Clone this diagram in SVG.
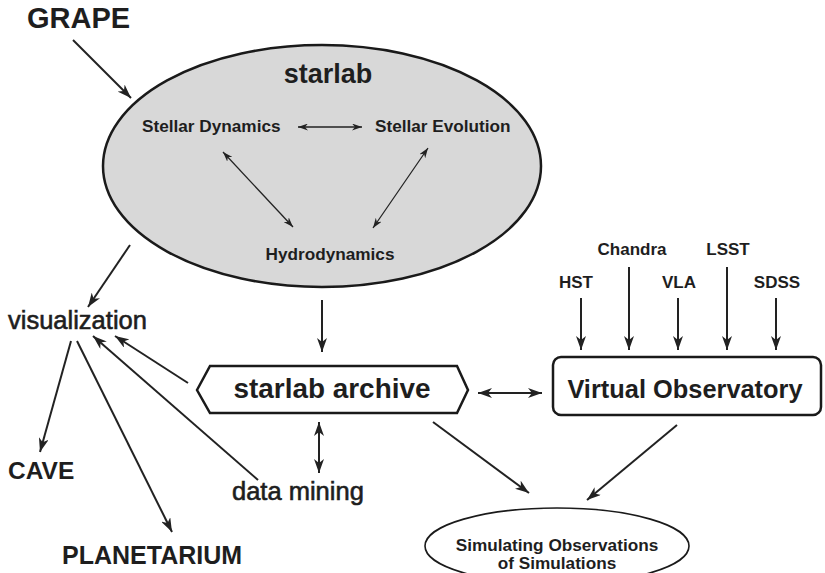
<svg xmlns="http://www.w3.org/2000/svg" width="825" height="573" viewBox="0 0 825 573">
<style>
  text { font-family: "Liberation Sans", Arial, sans-serif; fill: #1e1e1e; }
  .b { font-weight: bold; }
  .r { font-weight: normal; stroke: #1e1e1e; stroke-width: 0.6; }
  .c { stroke: #222; stroke-width: 2; fill: none; }
  .t { stroke: #222; stroke-width: 1.3; fill: none; }
  .shape { stroke: #1a1a1a; stroke-width: 2.5; }
</style>
<defs>
  <marker id="ah" viewBox="0 0 14 10" refX="14" refY="5" markerWidth="14" markerHeight="10" markerUnits="userSpaceOnUse" orient="auto-start-reverse">
    <path d="M0,0 L14,5 L0,10 L4,5 Z" fill="#222"/>
  </marker>
  <marker id="as" viewBox="0 0 10 7" refX="10" refY="3.5" markerWidth="10" markerHeight="7" markerUnits="userSpaceOnUse" orient="auto-start-reverse">
    <path d="M0,0 L10,3.5 L0,7 L3,3.5 Z" fill="#222"/>
  </marker>
</defs>
<rect width="825" height="573" fill="#ffffff"/>

<g id="grape"><text class="b" x="27" y="28" font-size="29">GRAPE</text></g>

<g id="starlab">
  <ellipse class="shape" cx="322" cy="166" rx="219" ry="121" fill="#d8d8d8"/>
  <text class="b" x="328" y="83" font-size="27" text-anchor="middle">starlab</text>
</g>
<g id="stellar-dynamics"><text class="b" x="142" y="132" font-size="17.2">Stellar Dynamics</text></g>
<g id="stellar-evolution"><text class="b" x="375" y="132" font-size="17.2">Stellar Evolution</text></g>
<g id="hydrodynamics"><text class="b" x="330" y="260" font-size="17.2" text-anchor="middle">Hydrodynamics</text></g>

<g id="visualization"><text class="r" x="8" y="329" font-size="25.5">visualization</text></g>
<g id="cave"><text class="b" x="8" y="479" font-size="24.5">CAVE</text></g>
<g id="planetarium"><text class="b" x="62" y="564" font-size="25">PLANETARIUM</text></g>
<g id="data-mining"><text class="r" x="232" y="500" font-size="25.5">data mining</text></g>

<g id="starlab-archive">
  <polygon class="shape" points="197,390 210,366 457,366 468,390 457,413 210,413" fill="#fff"/>
  <text class="b" x="332" y="398" font-size="27.9" text-anchor="middle">starlab archive</text>
</g>

<g id="virtual-observatory">
  <rect class="shape" x="553" y="357" width="268" height="58" rx="8" fill="#fff"/>
  <text class="b" x="685" y="398" font-size="25.4" text-anchor="middle">Virtual Observatory</text>
</g>

<g id="hst"><text class="b" x="576" y="288" font-size="17" text-anchor="middle">HST</text></g>
<g id="chandra"><text class="b" x="632" y="255" font-size="17" text-anchor="middle">Chandra</text></g>
<g id="vla"><text class="b" x="679" y="288" font-size="17" text-anchor="middle">VLA</text></g>
<g id="lsst"><text class="b" x="728" y="255" font-size="17" text-anchor="middle">LSST</text></g>
<g id="sdss"><text class="b" x="777" y="288" font-size="17" text-anchor="middle">SDSS</text></g>

<g id="simulating-observations">
  <ellipse cx="557" cy="546" rx="132" ry="38" fill="#fff" stroke="#1a1a1a" stroke-width="1.6"/>
  <text class="b" x="557" y="551" font-size="17.2" text-anchor="middle">Simulating Observations</text>
  <text class="b" x="557" y="569" font-size="17.2" text-anchor="middle">of Simulations</text>
</g>

<g id="connectors">
  <line class="c" x1="73" y1="40" x2="131" y2="98" marker-end="url(#ah)"/>
  <line class="t" x1="298" y1="127" x2="362" y2="127" marker-start="url(#as)" marker-end="url(#as)"/>
  <line class="t" x1="223" y1="152" x2="293" y2="227" marker-start="url(#as)" marker-end="url(#as)"/>
  <line class="t" x1="428" y1="148" x2="373" y2="228" marker-start="url(#as)" marker-end="url(#as)"/>
  <line class="c" x1="130" y1="245" x2="88" y2="307" marker-end="url(#ah)"/>
  <line class="c" x1="71" y1="341" x2="40" y2="452" marker-end="url(#ah)"/>
  <line class="c" x1="77" y1="341" x2="172" y2="532" marker-end="url(#ah)"/>
  <line class="c" x1="188" y1="383" x2="115" y2="336" marker-end="url(#ah)"/>
  <line class="c" x1="258" y1="480" x2="93" y2="336" marker-end="url(#ah)"/>
  <line class="c" x1="322" y1="300" x2="322" y2="352" marker-end="url(#ah)"/>
  <line class="c" x1="319" y1="422" x2="319" y2="473" marker-start="url(#ah)" marker-end="url(#ah)"/>
  <line class="c" x1="478" y1="393" x2="542" y2="393" marker-start="url(#ah)" marker-end="url(#ah)"/>
  <line class="c" x1="581" y1="298" x2="581" y2="350" marker-end="url(#ah)"/>
  <line class="c" x1="629" y1="267" x2="629" y2="350" marker-end="url(#ah)"/>
  <line class="c" x1="678" y1="298" x2="678" y2="350" marker-end="url(#ah)"/>
  <line class="c" x1="727" y1="267" x2="727" y2="350" marker-end="url(#ah)"/>
  <line class="c" x1="776" y1="298" x2="776" y2="350" marker-end="url(#ah)"/>
  <line class="c" x1="433" y1="422" x2="529" y2="493" marker-end="url(#ah)"/>
  <line class="c" x1="677" y1="425" x2="587" y2="500" marker-end="url(#ah)"/>
</g>
</svg>
